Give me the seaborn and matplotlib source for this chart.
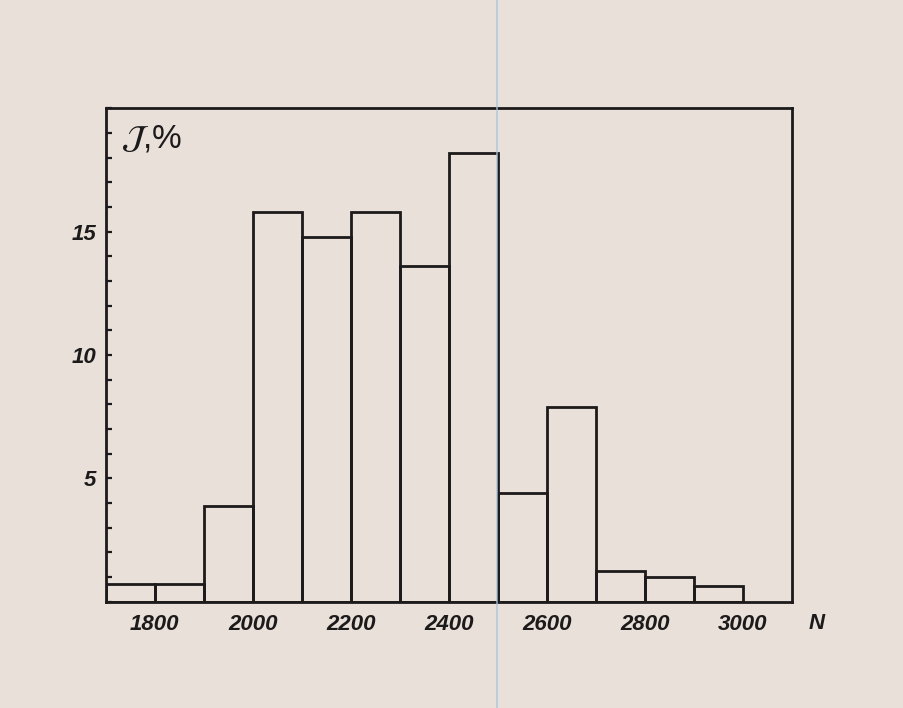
import numpy as np
import matplotlib
matplotlib.use("Agg")
import matplotlib.pyplot as plt
import matplotlib.lines as mlines
from matplotlib.ticker import MultipleLocator
import seaborn as sns

# Histogram of N, bins of width 100
bin_edges = [1700, 1800, 1900, 2000, 2100, 2200, 2300, 2400, 2500, 2600, 2700, 2800, 2900, 3000]
percent = [0.72, 0.72, 3.9, 15.8, 14.8, 15.8, 13.6, 18.2, 4.4, 7.9, 1.25, 1.0, 0.65]
x_ticks = [1800, 2000, 2200, 2400, 2600, 2800, 3000]
y_ticks = [5, 10, 15]

paper = "#e8e0d9"
ink = "#1c1a1a"

sns.set_theme(style="white")
plt.rcParams["font.family"] = ["Liberation Sans", "DejaVu Sans"]

fig = plt.figure(figsize=(9.04, 7.08), dpi=100, facecolor=paper)
ax = fig.add_axes([0.117, 0.150, 0.759, 0.697])
ax.set_facecolor(paper)

centers = [(a + b) / 2 for a, b in zip(bin_edges[:-1], bin_edges[1:])]
sns.histplot(x=centers, weights=percent, bins=bin_edges, element="bars",
             fill=False, color=ink, linewidth=2.0, ax=ax)

ax.set_xlim(1700, 3100)
ax.set_ylim(0, 20)
ax.set_xticks(x_ticks)
ax.set_yticks(y_ticks)
ax.yaxis.set_minor_locator(MultipleLocator(1))
ax.tick_params(axis="y", which="both", direction="in", length=4, width=1.6,
               color=ink, left=True, pad=7)
ax.tick_params(axis="x", which="both", length=0, pad=9)
for lab in ax.get_xticklabels() + ax.get_yticklabels():
    lab.set_fontsize(16)
    lab.set_fontstyle("italic")
    lab.set_fontweight("bold")
    lab.set_color(ink)

for sp in ax.spines.values():
    sp.set_visible(True)
    sp.set_color(ink)
    sp.set_linewidth(2.0)

ax.set_xlabel("")
ax.set_ylabel("")
ax.text(0.022, 0.97, r"$\mathcal{J}$,%", transform=ax.transAxes,
        fontsize=24, color=ink, ha="left", va="top")
ax.text(1.036, -0.022, "N", transform=ax.transAxes, fontsize=16,
        fontstyle="italic", fontweight="bold", color=ink, ha="center", va="top")

# faint vertical streak across the sheet
fig.add_artist(mlines.Line2D([0.55, 0.55], [0, 1], transform=fig.transFigure,
                             color="#a8c4dc", linewidth=1.2, alpha=0.8))

fig.savefig("out.png", dpi=100, facecolor=paper)
